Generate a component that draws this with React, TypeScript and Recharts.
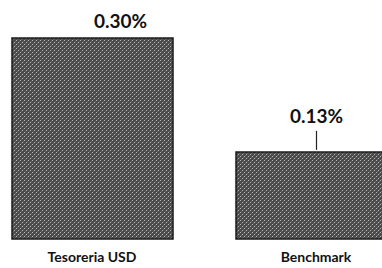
import React from "react";
import { BarChart, Bar, XAxis, YAxis, LabelList } from "recharts";

const categories = ["Tesoreria USD", "Benchmark"];
const values = [0.3, 0.13];

const data = categories.map((name, i) => ({ name, value: values[i] }));

const fmt = (v: number) => `${v.toFixed(2)}%`;

const ValueLabel = (props: any) => {
  const { x, y, width, index, value } = props;
  const cx = x + width / 2;
  if (index === 0) {
    return (
      <text x={cx + 28} y={y - 10} textAnchor="middle" fontFamily="Lato, 'Open Sans', sans-serif" fontWeight={700} fontSize={19} fill="#111">
        {fmt(value)}
      </text>
    );
  }
  return (
    <g>
      <text x={cx} y={y - 29} textAnchor="middle" fontFamily="Lato, 'Open Sans', sans-serif" fontWeight={700} fontSize={19} fill="#111">
        {fmt(value)}
      </text>
      <line x1={cx} x2={cx} y1={y - 21} y2={y - 2} stroke="#222" strokeWidth={1.2} />
    </g>
  );
};

const CatTick = (props: any) => {
  const { x, payload } = props;
  return (
    <text x={x} y={262} textAnchor="middle" fontFamily="Lato, 'Open Sans', sans-serif" fontWeight={700} fontSize={14} fill="#111">
      {payload.value}
    </text>
  );
};

export default function App() {
  return (
    <div style={{ position: "fixed", left: 0, top: 0, width: 382, height: 268, overflow: "hidden", background: "#fff" }}>
      <div style={{ position: "absolute", left: -20, top: 0 }}>
        <BarChart width={448} height={268} data={data} margin={{ top: 38, right: 0, left: 0, bottom: 0 }}>
          <defs>
            <pattern id="dither" width="4" height="4" patternUnits="userSpaceOnUse">
              <rect width="4" height="4" fill="#4a4a4a" />
              <rect x="0" y="0" width="1" height="1" fill="#b5b5b5" />
              <rect x="2" y="2" width="1" height="1" fill="#b5b5b5" />
              <rect x="1" y="3" width="1" height="1" fill="#6a6a6a" />
              <rect x="3" y="1" width="1" height="1" fill="#6a6a6a" />
            </pattern>
          </defs>
          <XAxis dataKey="name" axisLine={false} tickLine={false} tick={<CatTick />} interval={0} height={29} />
          <YAxis hide domain={[0, 0.3]} />
          <Bar dataKey="value" barSize={161} fill="url(#dither)" stroke="#1a1a1a" strokeWidth={1.5} isAnimationActive={false}>
            <LabelList dataKey="value" content={<ValueLabel />} />
          </Bar>
        </BarChart>
      </div>
    </div>
  );
}
